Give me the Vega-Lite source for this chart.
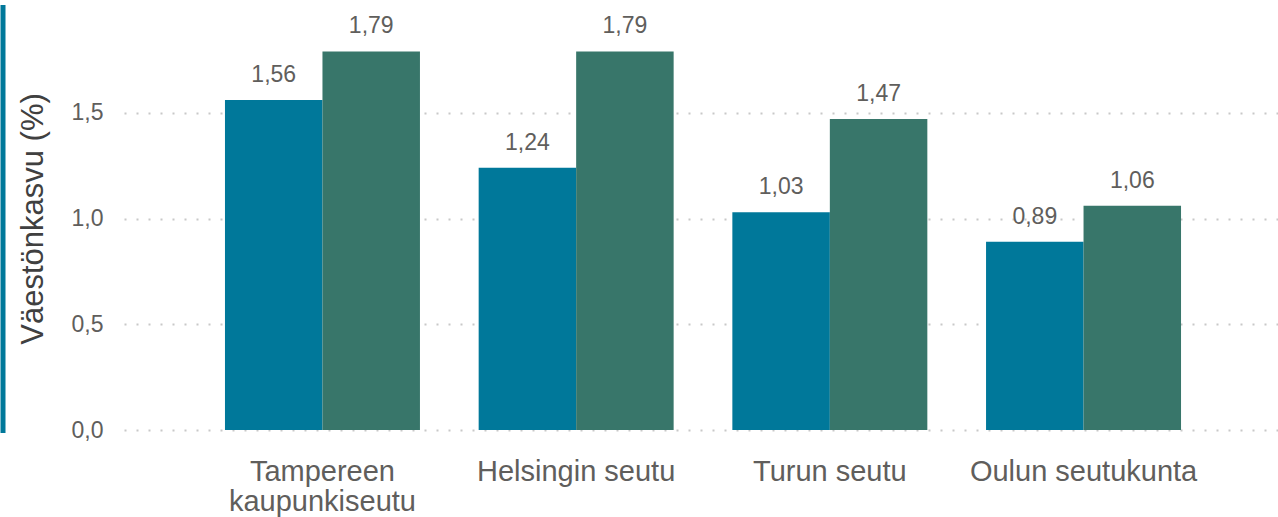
{
  "$schema": "https://vega.github.io/schema/vega-lite/v6.json",
  "autosize": {"type": "none"},
  "width": 1158,
  "height": 423,
  "padding": {"left": 124, "top": 7, "right": 0, "bottom": 87},
  "background": "white",
  "config": {
    "font": "Liberation Sans",
    "view": {"stroke": null},
    "locale": {"number": {"decimal": ",", "thousands": " ", "grouping": [3], "currency": ["", " €"]}}
  },
  "data": {
    "values": [
      {"alue": "Tampereen kaupunkiseutu", "sarja": "A", "kasvu": 1.56},
      {"alue": "Tampereen kaupunkiseutu", "sarja": "B", "kasvu": 1.79},
      {"alue": "Helsingin seutu", "sarja": "A", "kasvu": 1.24},
      {"alue": "Helsingin seutu", "sarja": "B", "kasvu": 1.79},
      {"alue": "Turun seutu", "sarja": "A", "kasvu": 1.03},
      {"alue": "Turun seutu", "sarja": "B", "kasvu": 1.47},
      {"alue": "Oulun seutukunta", "sarja": "A", "kasvu": 0.89},
      {"alue": "Oulun seutukunta", "sarja": "B", "kasvu": 1.06}
    ]
  },
  "encoding": {
    "x": {
      "field": "alue",
      "type": "nominal",
      "sort": null,
      "scale": {"paddingInner": 0.2314, "paddingOuter": 0.398},
      "axis": {
        "title": null,
        "labelAngle": 0,
        "ticks": false,
        "domain": false,
        "labelFontSize": 29,
        "labelColor": "#605E5C",
        "labelPadding": 27,
        "labelLineHeight": 30,
        "labelLimit": 0,
        "labelExpr": "datum.label == 'Tampereen kaupunkiseutu' ? ['Tampereen', 'kaupunkiseutu'] : datum.label"
      }
    },
    "xOffset": {"field": "sarja", "type": "nominal", "scale": {"paddingInner": 0, "paddingOuter": 0}},
    "y": {"field": "kasvu", "type": "quantitative", "scale": {"domain": [0, 2], "nice": false}}
  },
  "layer": [
    {
      "mark": {"type": "bar"},
      "encoding": {
        "y": {
          "field": "kasvu",
          "type": "quantitative",
          "axis": {
            "orient": "left",
            "title": "Väestönkasvu (%)",
            "titleFontSize": 31,
            "titleFontWeight": "normal",
            "titleColor": "#404040",
            "titlePadding": 22,
            "values": [0, 0.5, 1, 1.5],
            "format": ".1f",
            "labelFontSize": 23,
            "labelColor": "#605E5C",
            "labelPadding": 21,
            "ticks": false,
            "domain": false,
            "grid": true,
            "gridColor": "#C8C8C8",
            "gridDash": [2, 10],
            "gridWidth": 2
          }
        },
        "color": {
          "field": "sarja",
          "type": "nominal",
          "scale": {"domain": ["A", "B"], "range": ["#00789A", "#38766A"]},
          "legend": null
        }
      }
    },
    {
      "mark": {"type": "text", "baseline": "alphabetic", "dy": -18, "fontSize": 23, "color": "#605E5C"},
      "encoding": {
        "text": {"field": "kasvu", "type": "quantitative", "format": ".2f"},
        "y": {
          "field": "kasvu",
          "type": "quantitative",
          "axis": {
            "orient": "left",
            "title": null,
            "labels": false,
            "ticks": false,
            "grid": false,
            "domain": true,
            "domainColor": "#00789A",
            "domainWidth": 5,
            "domainCap": "square",
            "offset": 121.5
          }
        }
      }
    }
  ],
  "resolve": {"axis": {"y": "independent"}}
}
